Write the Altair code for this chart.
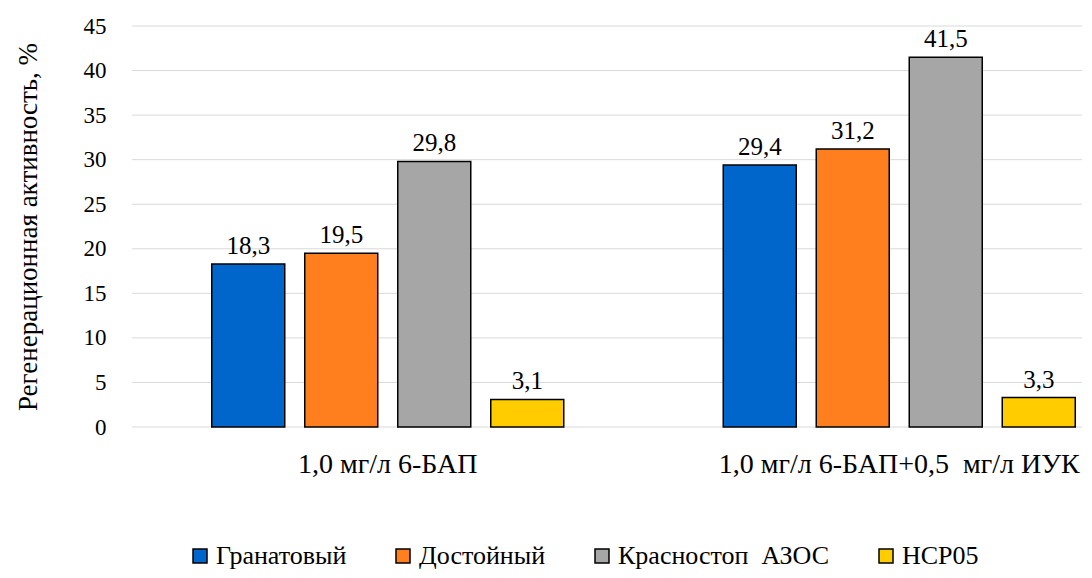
import altair as alt
import pandas as pd

groups = ["1,0 мг/л 6-БАП", "1,0 мг/л 6-БАП+0,5\u00a0\u00a0мг/л ИУК"]
series = ["Гранатовый", "Достойный", "Красностоп\u00a0\u00a0АЗОС", "НСР05"]
values_g1 = [18.3, 19.5, 29.8, 3.1]
values_g2 = [29.4, 31.2, 41.5, 3.3]
colors = ["#0066CC", "#FF7F1E", "#A6A6A6", "#FFCC00"]
y_ticks = [0, 5, 10, 15, 20, 25, 30, 35, 40, 45]

rows = []
for g, vals in zip(groups, [values_g1, values_g2]):
    for s, v in zip(series, vals):
        rows.append({"group": g, "series": s, "value": v,
                     "label": f"{v:.1f}".replace(".", ",")})
df = pd.DataFrame(rows)
grid_df = pd.DataFrame({"tick": y_ticks})
group_df = pd.DataFrame({"group": groups})

FONT = "Liberation Serif, Times New Roman, serif"
W = 950
H = 401

xscale = alt.Scale(domain=groups, range=[0, 1023], paddingInner=0, paddingOuter=0)
x = alt.X("group:N", sort=groups, title=None, scale=xscale, axis=None)
xo = alt.XOffset("series:N", sort=series,
                 scale=alt.Scale(paddingInner=0.215, paddingOuter=0.8575))
yscale = alt.Scale(domain=[0, 45], nice=False)
y = alt.Y("value:Q", title="Регенерационная активность, %",
          scale=yscale,
          axis=alt.Axis(values=y_ticks, labelFont=FONT,
                        labelFontSize=23, labelColor="black", ticks=False,
                        domain=False, labelPadding=26, grid=False,
                        titleFont=FONT, titleFontSize=27,
                        titleFontWeight="normal", titleColor="black",
                        titlePadding=41))

grid = alt.Chart(grid_df).mark_rule(color="#D9D9D9", strokeWidth=1).encode(
    y=alt.Y("tick:Q", scale=yscale),
    x=alt.value(0), x2=alt.value(W))

bars = alt.Chart(df).mark_bar(stroke="black", strokeWidth=1.5).encode(
    x=x, xOffset=xo, y=y,
    color=alt.Color("series:N", sort=series,
                    scale=alt.Scale(domain=series, range=colors),
                    legend=alt.Legend(title=None, orient="none",
                                      direction="horizontal",
                                      legendX=55, legendY=517,
                                      symbolType="square", symbolSize=196,
                                      symbolStrokeColor="black",
                                      symbolStrokeWidth=1.5,
                                      labelFont=FONT, labelFontSize=26,
                                      labelColor="black", labelOffset=3,
                                      labelLimit=400,
                                      columnPadding=43)),
)

text = alt.Chart(df).mark_text(font=FONT, fontSize=25, color="black",
                               baseline="alphabetic", dy=-10).encode(
    x=x, xOffset=xo, y=y, text="label:N")

xlabels = alt.Chart(group_df).mark_text(font=FONT, fontSize=28, color="black",
                                        baseline="middle").encode(
    x=alt.X("group:N", sort=groups, scale=xscale, axis=None),
    y=alt.value(H + 38), text="group:N")

chart = (grid + bars + text + xlabels).properties(
    width=W, height=H,
    padding={"top": 7, "left": 6, "right": 0, "bottom": 0}
).configure_view(stroke=None)

chart.save("out.html", embed_options={"renderer": "svg", "actions": False})
